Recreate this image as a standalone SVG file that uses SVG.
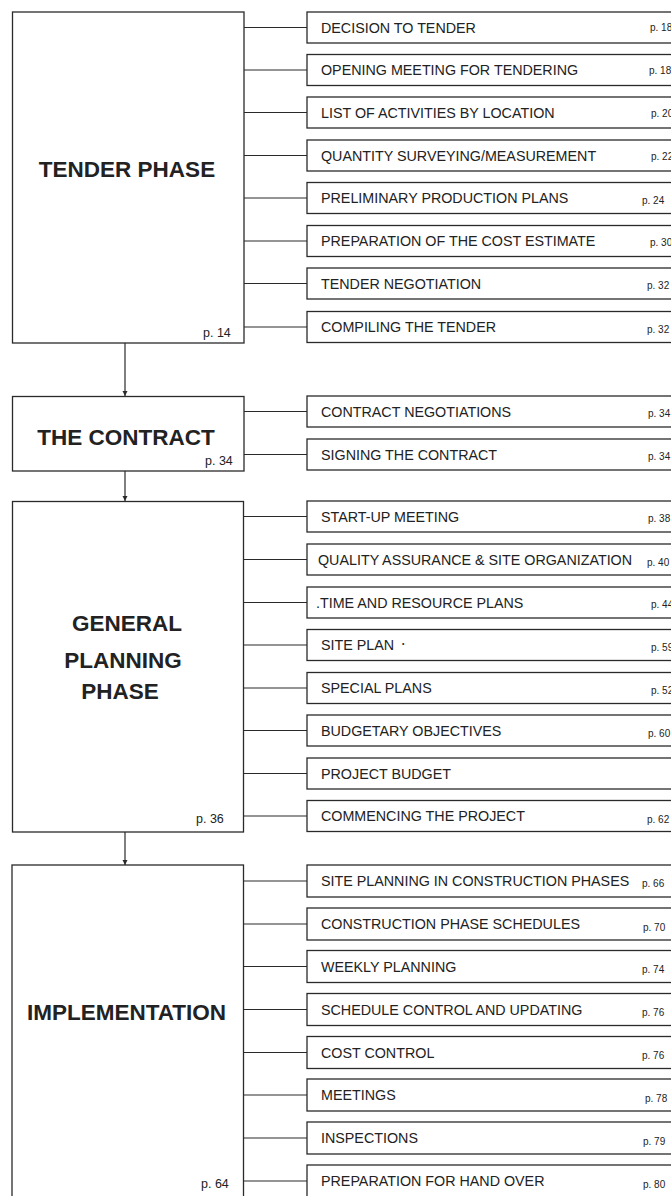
<svg xmlns="http://www.w3.org/2000/svg" width="671" height="1196" viewBox="0 0 671 1196">
<style>
.box{fill:#fff;stroke:#2a2a2a;stroke-width:1.3}
.ln{stroke:#2a2a2a;stroke-width:1.2;fill:none}
.title{font-family:"Liberation Sans",Arial,sans-serif;font-weight:bold;font-size:22.5px;fill:#222}
.lbl{font-family:"Liberation Sans",Arial,sans-serif;font-size:14.3px;fill:#222}
.pg{font-family:"Liberation Sans",Arial,sans-serif;font-size:10px;fill:#222}
.pgl{font-family:"Liberation Sans",Arial,sans-serif;font-size:12.5px;fill:#222}
</style>
<defs>
<marker id="ah" viewBox="0 0 10 10" refX="10" refY="5" markerWidth="5" markerHeight="7" markerUnits="userSpaceOnUse" orient="auto">
<path d="M0,0 L10,5 L0,10 Z" fill="#2a2a2a"/>
</marker>
</defs>
<rect width="671" height="1196" fill="#fff"/>

<g id="connectors">
<line class="ln" x1="125" y1="343" x2="125" y2="396" marker-end="url(#ah)"/>
<line class="ln" x1="125" y1="471" x2="125" y2="501" marker-end="url(#ah)"/>
<line class="ln" x1="125" y1="832" x2="125" y2="865" marker-end="url(#ah)"/>
<line class="ln" x1="244" y1="27.5" x2="307" y2="27.5"/>
<line class="ln" x1="244" y1="70" x2="307" y2="70"/>
<line class="ln" x1="244" y1="112.5" x2="307" y2="112.5"/>
<line class="ln" x1="244" y1="155.5" x2="307" y2="155.5"/>
<line class="ln" x1="244" y1="198" x2="307" y2="198"/>
<line class="ln" x1="244" y1="241" x2="307" y2="241"/>
<line class="ln" x1="244" y1="283.5" x2="307" y2="283.5"/>
<line class="ln" x1="244" y1="327" x2="307" y2="327"/>
<line class="ln" x1="244" y1="411.5" x2="307" y2="411.5"/>
<line class="ln" x1="244" y1="454.5" x2="307" y2="454.5"/>
<line class="ln" x1="244" y1="516.5" x2="307" y2="516.5"/>
<line class="ln" x1="244" y1="559.5" x2="307" y2="559.5"/>
<line class="ln" x1="244" y1="602.5" x2="307" y2="602.5"/>
<line class="ln" x1="244" y1="645" x2="307" y2="645"/>
<line class="ln" x1="244" y1="688" x2="307" y2="688"/>
<line class="ln" x1="244" y1="730.5" x2="307" y2="730.5"/>
<line class="ln" x1="244" y1="773.5" x2="307" y2="773.5"/>
<line class="ln" x1="244" y1="816" x2="307" y2="816"/>
<line class="ln" x1="244" y1="881" x2="307" y2="881"/>
<line class="ln" x1="244" y1="924" x2="307" y2="924"/>
<line class="ln" x1="244" y1="966.5" x2="307" y2="966.5"/>
<line class="ln" x1="244" y1="1009.5" x2="307" y2="1009.5"/>
<line class="ln" x1="244" y1="1052.5" x2="307" y2="1052.5"/>
<line class="ln" x1="244" y1="1095" x2="307" y2="1095"/>
<line class="ln" x1="244" y1="1138" x2="307" y2="1138"/>
<line class="ln" x1="244" y1="1181" x2="307" y2="1181"/>
</g>

<g id="tender-phase">
<rect class="box" x="12.5" y="12" width="231.5" height="331"/>
<text class="title" x="127" y="177" text-anchor="middle">TENDER PHASE</text>
<text class="pgl" x="203" y="337">p. 14</text>
</g>
<g id="the-contract">
<rect class="box" x="12.5" y="396.5" width="231.5" height="74.5"/>
<text class="title" x="126" y="445" text-anchor="middle">THE CONTRACT</text>
<text class="pgl" x="205" y="465">p. 34</text>
</g>
<g id="general-planning-phase">
<rect class="box" x="12.5" y="501.5" width="231" height="330.5"/>
<text class="title" x="127" y="631" text-anchor="middle">GENERAL</text>
<text class="title" x="123" y="668" text-anchor="middle">PLANNING</text>
<text class="title" x="120" y="699" text-anchor="middle">PHASE</text>
<text class="pgl" x="196" y="822.5">p. 36</text>
</g>
<g id="implementation">
<rect class="box" x="12" y="865" width="231.5" height="340"/>
<text class="title" x="126.5" y="1020" text-anchor="middle">IMPLEMENTATION</text>
<text class="pgl" x="201" y="1188">p. 64</text>
</g>

<g id="t1"><rect class="box" x="307" y="12" width="370" height="31"/><text class="lbl" x="321" y="32.5">DECISION TO TENDER</text><text class="pg" x="650" y="31">p. 18</text></g>
<g id="t2"><rect class="box" x="307" y="54.5" width="370" height="31"/><text class="lbl" x="321" y="75">OPENING MEETING FOR TENDERING</text><text class="pg" x="649" y="73.5">p. 18</text></g>
<g id="t3"><rect class="box" x="307" y="97" width="370" height="31"/><text class="lbl" x="321" y="117.5">LIST OF ACTIVITIES BY LOCATION</text><text class="pg" x="651" y="117">p. 20</text></g>
<g id="t4"><rect class="box" x="307" y="140" width="370" height="31"/><text class="lbl" x="321" y="160.5">QUANTITY SURVEYING/MEASUREMENT</text><text class="pg" x="651" y="160">p. 22</text></g>
<g id="t5"><rect class="box" x="307" y="182.5" width="370" height="31"/><text class="lbl" x="321" y="203">PRELIMINARY PRODUCTION PLANS</text><text class="pg" x="642" y="204">p. 24</text></g>
<g id="t6"><rect class="box" x="307" y="225.5" width="370" height="31"/><text class="lbl" x="321" y="246">PREPARATION OF THE COST ESTIMATE</text><text class="pg" x="650" y="246">p. 30</text></g>
<g id="t7"><rect class="box" x="307" y="268" width="370" height="31"/><text class="lbl" x="321" y="288.5">TENDER NEGOTIATION</text><text class="pg" x="647" y="289">p. 32</text></g>
<g id="t8"><rect class="box" x="307" y="311.5" width="370" height="31"/><text class="lbl" x="321" y="332">COMPILING THE TENDER</text><text class="pg" x="647" y="332.5">p. 32</text></g>

<g id="c1"><rect class="box" x="307" y="396" width="370" height="31"/><text class="lbl" x="321" y="416.5">CONTRACT NEGOTIATIONS</text><text class="pg" x="648" y="417">p. 34</text></g>
<g id="c2"><rect class="box" x="307" y="439" width="370" height="31"/><text class="lbl" x="321" y="459.5">SIGNING THE CONTRACT</text><text class="pg" x="648" y="460">p. 34</text></g>

<g id="g1"><rect class="box" x="307" y="501" width="370" height="31"/><text class="lbl" x="321" y="521.5">START-UP MEETING</text><text class="pg" x="648" y="522">p. 38</text></g>
<g id="g2"><rect class="box" x="307" y="544" width="370" height="31"/><text class="lbl" x="318" y="564.5">QUALITY ASSURANCE &amp; SITE ORGANIZATION</text><text class="pg" x="647" y="566">p. 40</text></g>
<g id="g3"><rect class="box" x="307" y="587" width="370" height="31"/><text class="lbl" x="316" y="607.5">.TIME AND RESOURCE PLANS</text><text class="pg" x="651" y="608">p. 44</text></g>
<g id="g4"><rect class="box" x="307" y="629.5" width="370" height="31"/><text class="lbl" x="321" y="650">SITE PLAN <tspan font-size="7" dx="4" dy="-4">•</tspan></text><text class="pg" x="651" y="651">p. 59</text></g>
<g id="g5"><rect class="box" x="307" y="672.5" width="370" height="31"/><text class="lbl" x="321" y="693">SPECIAL PLANS</text><text class="pg" x="651" y="694">p. 52</text></g>
<g id="g6"><rect class="box" x="307" y="715" width="370" height="31"/><text class="lbl" x="321" y="735.5">BUDGETARY OBJECTIVES</text><text class="pg" x="648" y="736.5">p. 60</text></g>
<g id="g7"><rect class="box" x="307" y="758" width="370" height="31"/><text class="lbl" x="321" y="778.5">PROJECT BUDGET</text></g>
<g id="g8"><rect class="box" x="307" y="800.5" width="370" height="31"/><text class="lbl" x="321" y="821">COMMENCING THE PROJECT</text><text class="pg" x="647" y="822.5">p. 62</text></g>

<g id="i1"><rect class="box" x="307" y="865" width="370" height="32"/><text class="lbl" x="321" y="886">SITE PLANNING IN CONSTRUCTION PHASES</text><text class="pg" x="642" y="887">p. 66</text></g>
<g id="i2"><rect class="box" x="307" y="908" width="370" height="32"/><text class="lbl" x="321" y="929">CONSTRUCTION PHASE SCHEDULES</text><text class="pg" x="643" y="930.5">p. 70</text></g>
<g id="i3"><rect class="box" x="307" y="950.5" width="370" height="32"/><text class="lbl" x="321" y="971.5">WEEKLY PLANNING</text><text class="pg" x="642" y="973">p. 74</text></g>
<g id="i4"><rect class="box" x="307" y="993.5" width="370" height="32"/><text class="lbl" x="321" y="1014.5">SCHEDULE CONTROL AND UPDATING</text><text class="pg" x="642" y="1016">p. 76</text></g>
<g id="i5"><rect class="box" x="307" y="1036.5" width="370" height="32"/><text class="lbl" x="321" y="1057.5">COST CONTROL</text><text class="pg" x="642" y="1059">p. 76</text></g>
<g id="i6"><rect class="box" x="307" y="1079" width="370" height="32"/><text class="lbl" x="321" y="1100">MEETINGS</text><text class="pg" x="645" y="1101.5">p. 78</text></g>
<g id="i7"><rect class="box" x="307" y="1122" width="370" height="32"/><text class="lbl" x="321" y="1143">INSPECTIONS</text><text class="pg" x="643" y="1145">p. 79</text></g>
<g id="i8"><rect class="box" x="307" y="1165" width="370" height="40"/><text class="lbl" x="321" y="1186">PREPARATION FOR HAND OVER</text><text class="pg" x="643" y="1188">p. 80</text></g>
</svg>
